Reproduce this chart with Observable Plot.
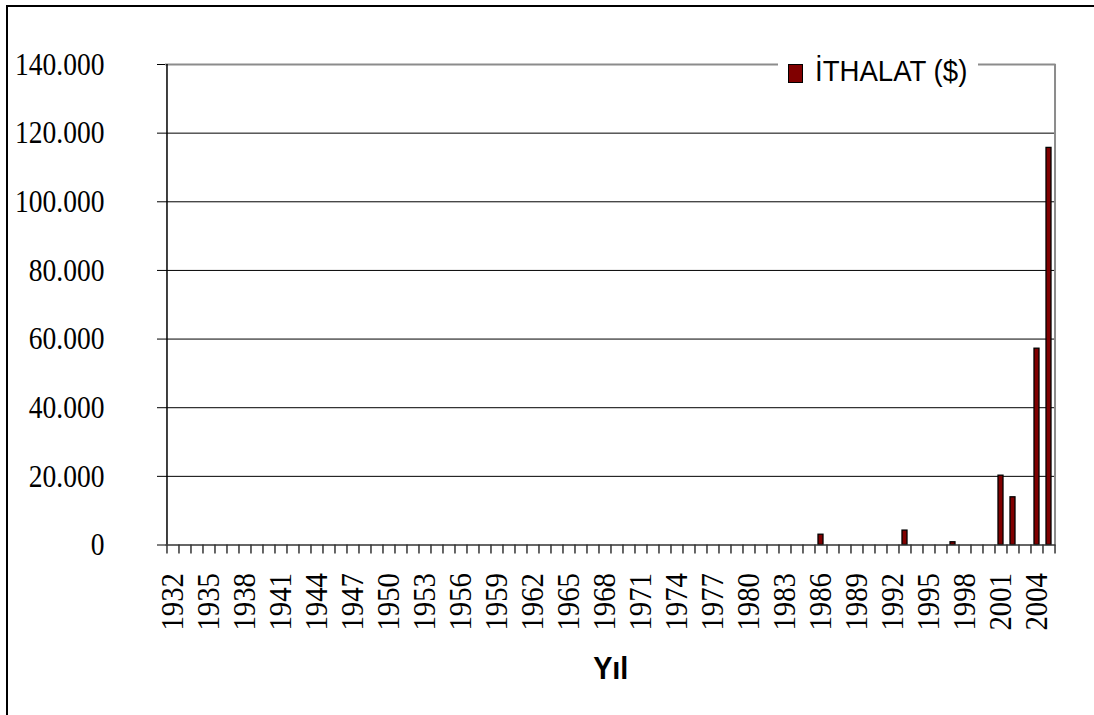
<!DOCTYPE html>
<html>
<head>
<meta charset="utf-8">
<script src="https://cdn.jsdelivr.net/npm/d3@7"></script>
<script src="https://cdn.jsdelivr.net/npm/@observablehq/plot@0.6"></script>
<style>
  html, body { margin: 0; padding: 0; background: #fff; }
  #wrap { position: relative; width: 1094px; height: 715px; overflow: hidden; background: #fff; }
  #frame { position: absolute; left: 6px; top: 5px; width: 1200px; height: 800px;
           border-left: 2.5px solid #000; border-top: 2.5px solid #000; pointer-events: none; }
  #legend { position: absolute; left: 778px; top: 48px; width: 200px; height: 46px; background: #fff;
            font-family: "Liberation Sans", Arial, sans-serif; font-size: 30px; color: #000; }
  #legend .sw { position: absolute; left: 10px; top: 16px; width: 13px; height: 17px;
                background: #800000; border: 1.3px solid #000; }
  #legend .lt { position: absolute; left: 37px; top: 6px; line-height: 34px; white-space: nowrap;
                transform: scaleX(0.92); transform-origin: 0 50%; }
</style>
</head>
<body>
<div id="wrap">
  <div id="chart"></div>
  <div id="legend"><div class="sw"></div><div class="lt">İTHALAT ($)</div></div>
  <div id="frame"></div>
</div>
<script>
// Categories (years)
const years = [1932,1933,1934,1935,1936,1937,1938,1939,1940,1941,1942,1943,1944,1945,1946,1947,1948,1949,
  1950,1951,1952,1953,1954,1955,1956,1957,1958,1959,1960,1961,1962,1963,1964,1965,1966,1967,1968,1969,
  1970,1971,1972,1973,1974,1975,1976,1977,1978,1979,1980,1981,1982,1983,1984,1985,1986,1987,1988,1989,
  1990,1991,1992,1993,1994,1995,1996,1997,1998,1999,2000,2001,2002,2003,2004,2005];
// Series: İTHALAT ($)
const imports = [0,0,0,0,0,0,0,0,0,0,0,0,0,0,0,0,0,0,
  0,0,0,0,0,0,0,0,0,0,0,0,0,0,0,0,0,0,0,0,
  0,0,0,0,0,0,0,0,0,0,0,0,0,0,0,0,3000,0,0,0,
  0,0,0,4200,0,0,0,800,0,0,0,20200,13900,0,57200,115700];
// Tick labels
const xTickYears = [1932,1935,1938,1941,1944,1947,1950,1953,1956,1959,1962,1965,1968,1971,1974,1977,
  1980,1983,1986,1989,1992,1995,1998,2001,2004];
const yTicks = [0,20000,40000,60000,80000,100000,120000,140000];
const gridLines = [20000,40000,60000,80000,100000,120000];
const xTitle = "Yıl";

const W = 1094, H = 715, mL = 165, mR = 38.5, mT = 64, mB = 170.5;
const step = (W - mL - mR) / years.length;
const data = years.map((year, i) => ({year, value: imports[i]}));
const first = years[0], last = years[years.length - 1];
const fmt = d => d3.format(",")(d).replace(/,/g, ".");

const chart = Plot.plot({
  width: W, height: H,
  marginLeft: mL, marginRight: mR, marginTop: mT, marginBottom: mB,
  style: {background: "transparent", color: "#000", fontFamily: '"Liberation Serif", serif', fontSize: "32px", overflow: "visible"},
  x: {type: "band", domain: years, paddingInner: 0.55, paddingOuter: 0.275,
      ticks: xTickYears, tickSize: 0, tickPadding: 28, tickRotate: -90, tickFormat: d => String(d),
      label: xTitle, labelAnchor: "center", labelOffset: 134},
  y: {domain: [0, 140000], ticks: yTicks, tickSize: 8, tickPadding: 53, tickFormat: fmt, label: null},
  marks: [
    Plot.ruleY(gridLines, {stroke: "#000", strokeWidth: 1}),
    Plot.ruleY([140000], {stroke: "#8c8c8c", strokeWidth: 2}),
    Plot.ruleX([last], {dx: step / 2, stroke: "#8c8c8c", strokeWidth: 2}),
    Plot.ruleX([first], {dx: -step / 2, stroke: "#000", strokeWidth: 1.5}),
    Plot.ruleX(years, {x: d => d, y1: 0, y2: 0, dx: -step / 2, insetBottom: -9, stroke: "#000", strokeWidth: 1.2}),
    Plot.ruleX([last], {y1: 0, y2: 0, dx: step / 2, insetBottom: -9, stroke: "#000", strokeWidth: 1.2}),
    Plot.barY(data.filter(d => d.value > 0), {x: "year", y: "value", fill: "#800000", stroke: "#000", strokeWidth: 1.3}),
    Plot.ruleY([0], {stroke: "#333", strokeWidth: 1.5})
  ]
});
// Fonts: tall, slightly condensed glyphs as in the source chart
const xLabelSet = new Set(xTickYears.map(String));
d3.select(chart).selectAll("text").each(function() {
  const t = d3.select(this);
  const s = t.text();
  let sx;
  if (s === xTitle) {
    t.style("font-family", '"Liberation Sans", Arial, sans-serif').style("font-weight", "bold").style("font-size", "32px");
    sx = 0.9;
  } else {
    t.style("font-family", '"Liberation Serif", "Times New Roman", serif').style("font-size", "32px");
    sx = xLabelSet.has(s) ? 0.9 : 0.86;
  }
  t.style("fill", "#000");
  const x = +t.attr("x") || 0, y = +t.attr("y") || 0;
  const tr = t.attr("transform") || "";
  t.attr("transform", `${tr} translate(${x},${y}) scale(${sx},1) translate(${-x},${-y})`);
});
document.getElementById("chart").appendChild(chart);
</script>
</body>
</html>
